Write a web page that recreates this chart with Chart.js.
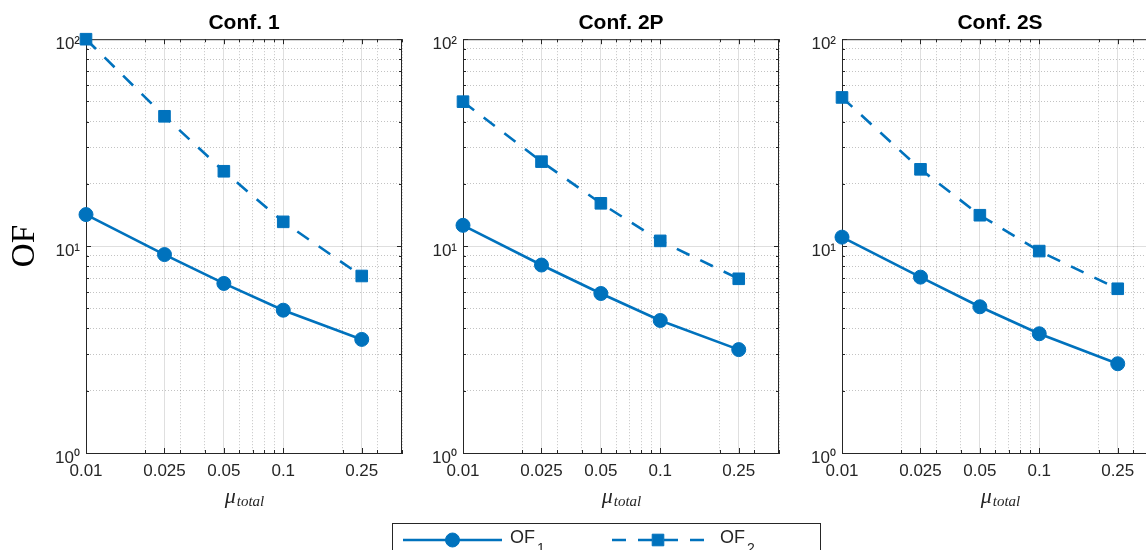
<!DOCTYPE html>
<html>
<head>
<meta charset="utf-8">
<script src="https://cdn.jsdelivr.net/npm/chart.js@4.4.1/dist/chart.umd.min.js"></script>
<style>
html,body{margin:0;padding:0;background:#fff;overflow:hidden;width:1146px;height:550px;}
canvas{position:absolute;left:0;top:0;}
</style>
</head>
<body>
<canvas id="c0" width="1170" height="550"></canvas>
<canvas id="c1" width="1170" height="550"></canvas>
<canvas id="c2" width="1170" height="550"></canvas>
<script>
// ---------------- data ----------------
const panelTitles = ['Conf. 1', 'Conf. 2P', 'Conf. 2S'];
const muTotal = [0.01, 0.025, 0.05, 0.1, 0.25];
const of1Conf1  = [14.2, 9.1, 6.6, 4.9, 3.54];
const of2Conf1  = [100, 42.4, 23.0, 13.1, 7.17];
const of1Conf2P = [12.6, 8.1, 5.9, 4.37, 3.16];
const of2Conf2P = [49.9, 25.6, 16.1, 10.6, 6.95];
const of1Conf2S = [11.05, 7.08, 5.09, 3.77, 2.70];
const of2Conf2S = [52.3, 23.5, 14.1, 9.46, 6.22];
const xTickValues = [0.01, 0.025, 0.05, 0.1, 0.25];
const xTickLabels = ['0.01', '0.025', '0.05', '0.1', '0.25'];
const xMinorTicks = [0.02, 0.03, 0.04, 0.06, 0.07, 0.08, 0.09, 0.2, 0.3, 0.4];
const yTickValues = [1, 10, 100];
const yTickLabels = ['10⁰', '10¹', '10²'];
const yMinorTicks = [2, 3, 4, 5, 6, 7, 8, 9, 20, 30, 40, 50, 60, 70, 80, 90];
const seriesBase = ['OF', 'OF'];
const seriesSub = ['1', '2'];
const yAxisTitle = 'OF';
const xAxisTitleBase = 'μ';
const xAxisTitleSub = 'total';

const panelOF1 = [of1Conf1, of1Conf2P, of1Conf2S];
const panelOF2 = [of2Conf1, of2Conf2P, of2Conf2S];

// ---------------- style ----------------
const BLUE = '#0072BD';
const AXIS = '#262626';
const GRID_MAJOR = 'rgba(38,38,38,0.15)';
const GRID_MINOR = 'rgba(38,38,38,0.28)';
const SANS = '"Liberation Sans", Arial, sans-serif';
const SERIF = '"Liberation Serif", "Times New Roman", serif';
const plotLeft = [86, 463, 842];
const plotW = 316;
const yAxisW = [86, 60, 60];
const CANVAS_W = 1170;

const near = (a, b) => Math.abs(a - b) < 1e-9 * Math.max(1, b);
const isMajorX = v => xTickValues.some(t => near(v, t));
const isMajorY = v => yTickValues.some(t => near(v, t));
const xLabel = v => { const k = xTickValues.findIndex(t => near(v, t)); return k >= 0 ? xTickLabels[k] : ''; };
const yLabel = v => { const k = yTickValues.findIndex(t => near(v, t)); return k >= 0 ? yTickLabels[k] : ''; };

// frame: top/right box edges and inward tick marks
const framePlugin = {
  id: 'frame',
  beforeDatasetsDraw(chart) {
    const {ctx, chartArea: a, scales: {x, y}} = chart;
    ctx.save();
    ctx.strokeStyle = AXIS;
    ctx.lineWidth = 1;
    ctx.beginPath();
    ctx.moveTo(a.left, a.top + 0.5); ctx.lineTo(a.right, a.top + 0.5);
    ctx.moveTo(a.right - 0.5, a.top); ctx.lineTo(a.right - 0.5, a.bottom);
    x.ticks.forEach(t => {
      const px = Math.round(x.getPixelForValue(t.value)) + 0.5;
      const len = isMajorX(t.value) ? 5 : 3;
      ctx.moveTo(px, a.bottom); ctx.lineTo(px, a.bottom - len);
      ctx.moveTo(px, a.top); ctx.lineTo(px, a.top + len);
    });
    y.ticks.forEach(t => {
      const py = Math.round(y.getPixelForValue(t.value)) + 0.5;
      const len = isMajorY(t.value) ? 5 : 3;
      ctx.moveTo(a.left, py); ctx.lineTo(a.left + len, py);
      ctx.moveTo(a.right, py); ctx.lineTo(a.right - len, py);
    });
    ctx.stroke();
    ctx.restore();
  }
};

// x-axis title with subscript
const muTitlePlugin = {
  id: 'muTitle',
  afterDraw(chart) {
    const {ctx, chartArea: a} = chart;
    const cx = (a.left + a.right) / 2;
    ctx.save();
    ctx.fillStyle = AXIS;
    ctx.textBaseline = 'alphabetic';
    ctx.font = 'italic 22px ' + SERIF;
    const w1 = ctx.measureText(xAxisTitleBase).width;
    ctx.font = 'italic 15px ' + SERIF;
    const w2 = ctx.measureText(xAxisTitleSub).width;
    const x0 = cx - (w1 + w2) / 2;
    ctx.font = 'italic 22px ' + SERIF;
    ctx.fillText(xAxisTitleBase, x0, 503);
    ctx.font = 'italic 15px ' + SERIF;
    ctx.fillText(xAxisTitleSub, x0 + w1 + 1, 506);
    ctx.restore();
  }
};

// shared legend (line + marker samples)
const legendPlugin = {
  id: 'ofLegend',
  afterDraw(chart, args, opts) {
    if (!opts || !opts.show) return;
    const ctx = chart.ctx;
    ctx.save();
    ctx.strokeStyle = AXIS;
    ctx.lineWidth = 1;
    ctx.strokeRect(392.5, 523.5, 428, 40);
    const items = [
      {x0: 403, x1: 502, tx: 510},
      {x0: 612, x1: 704, tx: 720}
    ];
    const ly = 540;
    chart.data.datasets.forEach((ds, k) => {
      const it = items[k];
      ctx.strokeStyle = ds.borderColor;
      ctx.lineWidth = ds.borderWidth;
      ctx.setLineDash(ds.borderDash || []);
      ctx.beginPath();
      ctx.moveTo(it.x0, ly); ctx.lineTo(it.x1, ly);
      ctx.stroke();
      ctx.setLineDash([]);
      ctx.fillStyle = ds.pointBackgroundColor;
      ctx.strokeStyle = ds.pointBorderColor;
      ctx.lineWidth = ds.pointBorderWidth;
      Chart.helpers.drawPoint(ctx, {pointStyle: ds.pointStyle, radius: ds.pointRadius, rotation: 0, borderWidth: ds.pointBorderWidth}, (it.x0 + it.x1) / 2, ly);
      ctx.fillStyle = AXIS;
      ctx.textBaseline = 'alphabetic';
      ctx.font = '18px ' + SANS;
      ctx.fillText(seriesBase[k], it.tx, 543);
      const w = ctx.measureText(seriesBase[k]).width;
      ctx.font = '14px ' + SANS;
      ctx.fillText(seriesSub[k], it.tx + w + 2, 553);
    });
    ctx.restore();
  }
};

function makeChart(i) {
  const xAll = xTickValues.concat(xMinorTicks).sort((a, b) => a - b);
  const yAll = yTickValues.concat(yMinorTicks).sort((a, b) => a - b);
  return new Chart(document.getElementById('c' + i), {
    type: 'line',
    data: {
      datasets: [
        {
          label: 'OF₁',
          data: muTotal.map((x, k) => ({x: x, y: panelOF1[i][k]})),
          borderColor: BLUE, backgroundColor: BLUE,
          borderWidth: 2.6,
          pointStyle: 'circle', pointRadius: 7, pointBorderWidth: 1,
          pointBackgroundColor: BLUE, pointBorderColor: BLUE,
          tension: 0, clip: false
        },
        {
          label: 'OF₂',
          data: muTotal.map((x, k) => ({x: x, y: panelOF2[i][k]})),
          borderColor: BLUE, backgroundColor: BLUE,
          borderWidth: 2.6, borderDash: [14, 12],
          pointStyle: 'rect', pointRadius: 8.2, pointBorderWidth: 1,
          pointBackgroundColor: BLUE, pointBorderColor: BLUE,
          tension: 0, clip: false
        }
      ]
    },
    options: {
      responsive: false,
      animation: false,
      devicePixelRatio: 1,
      events: [],
      layout: {padding: {left: plotLeft[i] - yAxisW[i], right: CANVAS_W - plotLeft[i] - plotW, top: 0, bottom: 0}},
      plugins: {
        legend: {display: false},
        tooltip: {enabled: false},
        title: {
          display: true, text: panelTitles[i], fullSize: false,
          color: '#000', font: {family: SANS, size: 21, weight: 'bold'},
          padding: {top: 11, bottom: 3}
        },
        ofLegend: {show: i === 0}
      },
      scales: {
        x: {
          type: 'logarithmic', min: 0.01, max: 0.4,
          afterBuildTicks: s => { s.ticks = xAll.map(v => ({value: v})); },
          afterFit: s => { s.height = 97; },
          ticks: {
            autoSkip: false, maxRotation: 0, minRotation: 0, padding: 8,
            color: AXIS, font: {family: SANS, size: 17},
            callback: v => xLabel(v)
          },
          grid: {
            drawTicks: false, lineWidth: 1,
            color: c => (c.tick && isMajorX(c.tick.value)) ? GRID_MAJOR : GRID_MINOR
          },
          border: {
            display: true, color: AXIS, width: 1,
            dash: c => (c.tick && !isMajorX(c.tick.value)) ? [1, 2] : []
          }
        },
        y: {
          type: 'logarithmic', min: 1, max: 100,
          afterBuildTicks: s => { s.ticks = yAll.map(v => ({value: v})); },
          afterFit: s => { s.width = yAxisW[i]; },
          ticks: {
            autoSkip: false, padding: 6, labelOffset: 5,
            color: AXIS, font: {family: SANS, size: 17},
            callback: v => yLabel(v)
          },
          grid: {
            drawTicks: false, lineWidth: 1,
            color: c => (c.tick && isMajorY(c.tick.value)) ? GRID_MAJOR : GRID_MINOR
          },
          border: {
            display: true, color: AXIS, width: 1,
            dash: c => (c.tick && !isMajorY(c.tick.value)) ? [1, 2] : []
          },
          title: {
            display: i === 0, text: yAxisTitle, color: '#000',
            font: {family: SERIF, size: 33}, padding: {top: 6, bottom: 0}
          }
        }
      }
    },
    plugins: [framePlugin, muTitlePlugin, legendPlugin]
  });
}
[0, 1, 2].forEach(makeChart);
</script>
</body>
</html>
